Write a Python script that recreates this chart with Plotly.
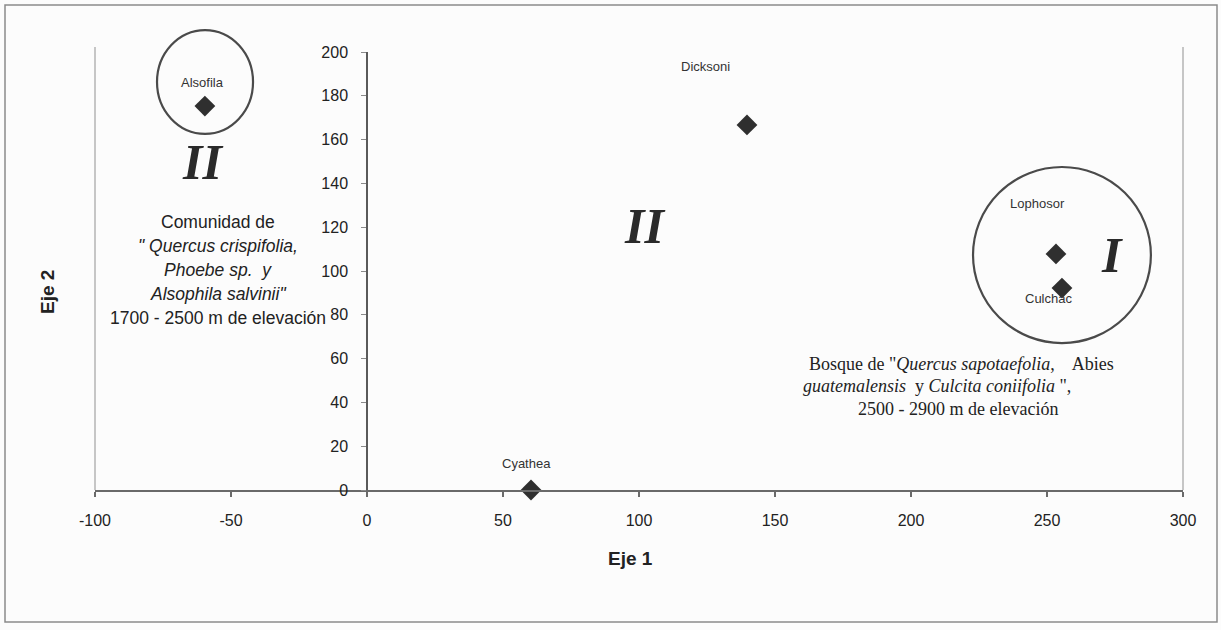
import plotly.graph_objects as go

# ---------------- data ----------------
species = ["Alsofila", "Dicksoni", "Lophosor", "Culchac", "Cyathea"]
eje1 = [-59.6, 139.7, 253.3, 255.5, 60.3]
eje2 = [175.3, 166.7, 107.8, 92.2, 0.0]

x_ticks = [-100, -50, 0, 50, 100, 150, 200, 250, 300]
y_ticks = [0, 20, 40, 60, 80, 100, 120, 140, 160, 180, 200]

# ---------------- layout geometry ----------------
W, H = 1221, 630
ML, MR, MT, MB = 95, 38, 52, 140
X_RANGE = [-100, 300]
Y_RANGE = [0, 200]
PW, PH = W - ML - MR, H - MT - MB


def px_to_paper_x(px):
    return (px - ML) / PW


def px_to_paper_y(py):
    return (H - MB - py) / PH


def data_to_paper_x(x):
    return (x - X_RANGE[0]) / (X_RANGE[1] - X_RANGE[0])


def data_to_paper_y(y):
    return (y - Y_RANGE[0]) / (Y_RANGE[1] - Y_RANGE[0])


# label offsets (pixels) relative to each point
label_shift = {
    "Alsofila": (-2, 24),
    "Dicksoni": (-41, 58),
    "Lophosor": (-18, 50),
    "Culchac": (-13, -10),
    "Cyathea": (-5, 27),
}

TXT = "#222222"
SANS = "Arial, Liberation Sans, sans-serif"
SERIF = "Times New Roman, Liberation Serif, serif"

fig = go.Figure()
fig.add_trace(go.Scatter(
    x=eje1, y=eje2, mode="markers",
    marker=dict(symbol="diamond", size=16, color="#2f2f2f"),
    showlegend=False, cliponaxis=False, hoverinfo="text", text=species,
))

annotations = []
for name, xv, yv in zip(species, eje1, eje2):
    dx, dy = label_shift[name]
    annotations.append(dict(
        x=xv, y=yv, xref="x", yref="y", text=name, showarrow=False,
        xshift=dx, yshift=dy, font=dict(family=SANS, size=13, color="#333333"),
    ))

# Roman numerals
for txt, xv, yv in [("II", -60.3, 149.8), ("II", 102.2, 120.5), ("I", 273.9, 107.3)]:
    annotations.append(dict(
        x=xv, y=yv, xref="x", yref="y", text="<b><i>%s</i></b>" % txt,
        showarrow=False, font=dict(family=SERIF, size=50, color="#2a2a2a"),
    ))

# Left community text block
left_lines = [
    ("Comunidad de", 122.4),
    ("<i>\" Quercus crispifolia,</i>", 111.4),
    ("<i>Phoebe sp.  y</i>", 100.5),
    ("<i>Alsophila salvinii\"</i>", 89.5),
    ("1700 - 2500 m de elevación", 78.5),
]
for txt, yv in left_lines:
    annotations.append(dict(
        x=-54.8, y=yv, xref="x", yref="y", text=txt, showarrow=False,
        font=dict(family=SANS, size=17.5, color=TXT),
    ))

# Right community text block
right_lines = [
    ("Bosque de \"<i>Quercus sapotaefolia</i>,    Abies", 218.5, 57.5),
    ("<i>guatemalensis</i>  y <i>Culcita coniifolia</i> \",", 209.6, 47.3),
    ("2500 - 2900 m de elevación", 217.3, 37.0),
]
for txt, xv, yv in right_lines:
    annotations.append(dict(
        x=xv, y=yv, xref="x", yref="y", text=txt, showarrow=False,
        font=dict(family=SERIF, size=18, color=TXT),
    ))

# Axis titles
annotations.append(dict(
    x=px_to_paper_x(630), y=px_to_paper_y(558), xref="paper", yref="paper",
    xanchor="center", yanchor="middle",
    text="<b>Eje 1</b>", showarrow=False, font=dict(family=SANS, size=19, color=TXT),
))
annotations.append(dict(
    x=px_to_paper_x(47), y=px_to_paper_y(292), xref="paper", yref="paper",
    xanchor="center", yanchor="middle",
    text="<b>Eje 2</b>", showarrow=False, textangle=-90,
    font=dict(family=SANS, size=19, color=TXT),
))

shapes = []
# circles (defined in data units, drawn in paper units so they are not clipped)
for x0, x1, y0, y1 in [(-77.2, -41.9, 162.6, 210.0), (222.8, 288.2, 67.1, 147.5)]:
    shapes.append(dict(
        type="circle", xref="paper", yref="paper",
        x0=data_to_paper_x(x0), x1=data_to_paper_x(x1),
        y0=data_to_paper_y(y0), y1=data_to_paper_y(y1),
        line=dict(color="#4a4a4a", width=2.2),
    ))

# plot area side borders
for px in (ML, W - MR):
    shapes.append(dict(
        type="line", xref="paper", yref="paper",
        x0=px_to_paper_x(px), x1=px_to_paper_x(px),
        y0=0, y1=px_to_paper_y(47),
        line=dict(color="#b5b5b5", width=1.5),
    ))

# outer chart border
shapes.append(dict(
    type="rect", xref="paper", yref="paper",
    x0=px_to_paper_x(5), x1=px_to_paper_x(1217),
    y0=px_to_paper_y(622), y1=px_to_paper_y(5),
    line=dict(color="#8a8a8a", width=1.5),
))

fig.update_layout(
    width=W, height=H,
    margin=dict(l=ML, r=MR, t=MT, b=MB),
    paper_bgcolor="#fcfcfc", plot_bgcolor="#fcfcfc",
    showlegend=False,
    annotations=annotations, shapes=shapes,
    xaxis=dict(
        range=X_RANGE, domain=[0, 1], tickvals=x_ticks,
        ticktext=[str(v) for v in x_ticks],
        showgrid=False, zeroline=False, showline=True,
        linecolor="#6a6a6a", linewidth=2,
        ticks="outside", ticklen=5, tickwidth=1.5, tickcolor="#6a6a6a",
        ticklabelstandoff=10,
        tickfont=dict(family=SANS, size=16, color=TXT),
        fixedrange=True,
    ),
    yaxis=dict(
        range=Y_RANGE, tickvals=y_ticks,
        ticktext=[str(v) for v in y_ticks],
        anchor="free", position=data_to_paper_x(0), side="left",
        showgrid=False, zeroline=False, showline=True,
        linecolor="#5a5a5a", linewidth=1.5,
        ticks="outside", ticklen=5, tickwidth=1.2, tickcolor="#8a8a8a",
        ticklabelstandoff=10,
        tickfont=dict(family=SANS, size=16, color=TXT),
        fixedrange=True,
    ),
)

fig.write_html("out.html")
